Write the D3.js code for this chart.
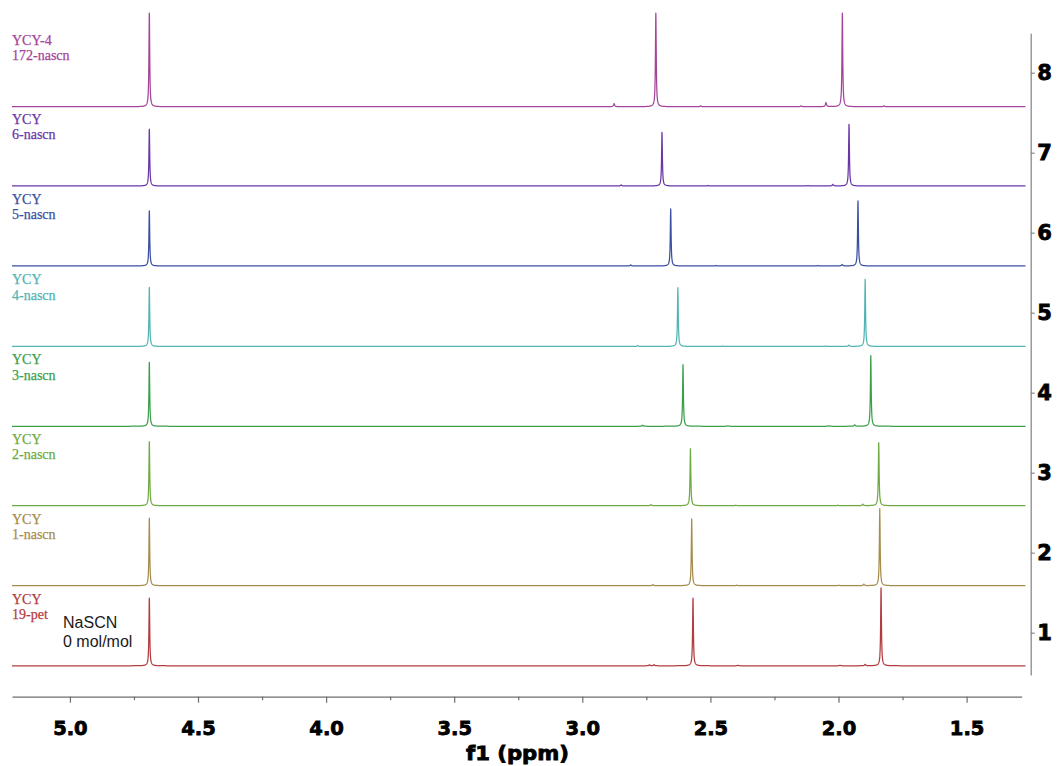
<!DOCTYPE html>
<html>
<head>
<meta charset="utf-8">
<script src="https://cdn.jsdelivr.net/npm/d3@7"></script>
<style>
  html, body { margin: 0; padding: 0; background: #fff; }
  svg { display: block; }
</style>
</head>
<body>
<svg id="chart" width="1057" height="766"></svg>
<script>
// ---------------- data ----------------
// spectra listed bottom (1) to top (8)
const sampleLine1 = ["YCY", "YCY", "YCY", "YCY", "YCY", "YCY", "YCY", "YCY-4"];
const sampleLine2 = ["19-pet", "1-nascn", "2-nascn", "3-nascn", "4-nascn", "5-nascn", "6-nascn", "172-nascn"];
const spectrumColors = ["#b23c40", "#a68d4c", "#6fab42", "#3c9f4c", "#52b4b4", "#3b4fa2", "#6b36a6", "#a5449b"];
const baselineOffsets = [0.586, 1.5875, 2.5875, 3.58, 4.578, 5.584, 6.584, 7.575];

const hdoPpm = 4.690;
const hdoHeight = [0.846, 0.843, 0.800, 0.800, 0.7375, 0.690, 0.710, 1.17];
const peakAPpm = [2.568, 2.573, 2.578, 2.607, 2.627, 2.655, 2.689, 2.713];
const peakAHeight = [0.846, 0.834, 0.7125, 0.770, 0.735, 0.7125, 0.670, 1.17];
const peakBPpm = [1.834, 1.839, 1.843, 1.874, 1.896, 1.924, 1.959, 1.985];
const peakBHeight = [0.975, 0.9625, 0.7875, 0.8825, 0.840, 0.8125, 0.770, 1.17];

// minor peaks [ppm, height]
const minorPeaks = [
  [[2.738, 0.012], [2.720, 0.014], [2.392, 0.006], [1.994, 0.006], [1.896, 0.018]],
  [[2.725, 0.013], [2.397, 0.006], [1.999, 0.006], [1.901, 0.018]],
  [[2.732, 0.013], [2.401, 0.006], [2.003, 0.006], [1.905, 0.018]],
  [[2.764, 0.013], [2.432, 0.006], [2.037, 0.006], [1.937, 0.018]],
  [[2.784, 0.012], [2.452, 0.006], [2.050, 0.006], [1.960, 0.016]],
  [[2.811, 0.013], [2.478, 0.006], [2.081, 0.006], [1.986, 0.018]],
  [[2.848, 0.013], [2.510, 0.006], [2.119, 0.006], [2.022, 0.020]],
  [[2.876, 0.038], [2.538, 0.012], [2.146, 0.010], [2.049, 0.050], [1.822, 0.012]]
];

const xTickValues = [5.0, 4.5, 4.0, 3.5, 3.0, 2.5, 2.0, 1.5];
const xMinorTickValues = [4.75, 4.25, 3.75, 3.25, 2.75, 2.25, 1.75];
const yTickValues = [1, 2, 3, 4, 5, 6, 7, 8];

// ---------------- drawing ----------------
const svg = d3.select("#chart");

const x = d3.scaleLinear().domain([5.226, 1.285]).range([12, 1021.7]);
const y = d3.scaleLinear().domain([0.471, 8.4925]).range([675, 33.3]);

const specLeft = 5.226, specRight = x.invert(1025.5);
const hwMain = 0.0018, hwMinor = 0.0026;

function lorentz(p, p0, h, w) {
  const d = p - p0;
  return h * w * w / (d * d + w * w);
}

const line = d3.line().x(d => x(d[0])).y(d => y(d[1])).curve(d3.curveLinear);

for (let i = 0; i < 8; i++) {
  const peaks = [
    [hdoPpm, hdoHeight[i], hwMain],
    [peakAPpm[i], peakAHeight[i], hwMain],
    [peakBPpm[i], peakBHeight[i], hwMain]
  ].concat(minorPeaks[i].map(m => [m[0], m[1], hwMinor]));

  const step = (specLeft - specRight) / 5000;
  let grid = d3.range(specLeft, specRight, -step);
  grid.push(specRight);
  peaks.forEach(pk => grid.push(pk[0]));
  grid.sort((a, b) => b - a);

  const pts = grid.map(p => {
    let v = 0;
    peaks.forEach(pk => { v += lorentz(p, pk[0], pk[1], pk[2]); });
    return [p, baselineOffsets[i] + v];
  });

  svg.append("path")
    .attr("d", line(pts))
    .attr("fill", "none")
    .attr("stroke", spectrumColors[i])
    .attr("stroke-width", 1.25)
    .attr("stroke-linejoin", "round");

  const prevBase = y(baselineOffsets[i] + 1.0);
  const lbl = svg.append("text")
    .attr("font-family", "'Liberation Serif', 'DejaVu Serif', serif")
    .attr("font-size", 14)
    .attr("fill", spectrumColors[i])
    .attr("stroke", spectrumColors[i])
    .attr("stroke-width", 0.25);
  lbl.append("tspan").attr("x", 12).attr("y", prevBase + 18).text(sampleLine1[i]);
  lbl.append("tspan").attr("x", 12).attr("y", prevBase + 33.5).text(sampleLine2[i]);
}

// NaSCN annotation
const ann = svg.append("text")
  .attr("font-family", "'Liberation Sans', Arial, sans-serif")
  .attr("font-size", 16)
  .attr("fill", "#1a1a1a");
ann.append("tspan").attr("x", 63).attr("y", 627.5).text("NaSCN");
ann.append("tspan").attr("x", 63).attr("y", 646.7).text("0 mol/mol");

// bottom axis
const axisY = 696.7;
const gx = svg.append("g").attr("transform", `translate(0,${axisY})`)
  .call(d3.axisBottom(x).tickValues(xTickValues).tickFormat(d3.format(".1f")).tickSize(6).tickSizeOuter(0));
gx.select(".domain").attr("stroke", "#6e6e6e").attr("stroke-width", 1.2);
gx.selectAll(".tick line").attr("stroke", "#6e6e6e").attr("stroke-width", 1.2);
gx.selectAll(".tick text")
  .attr("y", 38.3).attr("dy", 0)
  .attr("font-family", "'DejaVu Sans', sans-serif")
  .attr("font-weight", "bold")
  .attr("font-size", 19.5)
  .attr("fill", "#000")
  .attr("stroke", "#000")
  .attr("stroke-width", 0.8);
const gxm = svg.append("g").attr("transform", `translate(0,${axisY})`)
  .call(d3.axisBottom(x).tickValues(xMinorTickValues).tickFormat("").tickSize(3.5).tickSizeOuter(0));
gxm.select(".domain").remove();
gxm.selectAll(".tick line").attr("stroke", "#6e6e6e").attr("stroke-width", 1.2);

svg.append("text")
  .attr("x", 466).attr("y", 759.5)
  .attr("textLength", 103).attr("lengthAdjust", "spacingAndGlyphs")
  .attr("font-family", "'DejaVu Sans', sans-serif")
  .attr("font-weight", "bold")
  .attr("font-size", 19.5)
  .attr("fill", "#000")
  .attr("stroke", "#000")
  .attr("stroke-width", 0.8)
  .text("f1 (ppm)");

// right axis
const gy = svg.append("g").attr("transform", "translate(1030.7,0)")
  .call(d3.axisRight(y).tickValues(yTickValues).tickFormat(d3.format("d")).tickSize(4).tickPadding(2.5).tickSizeOuter(0));
gy.select(".domain").attr("stroke", "#8a8a8a").attr("stroke-width", 1.3);
gy.selectAll(".tick line").attr("stroke", "#8a8a8a").attr("stroke-width", 1.2);
gy.selectAll(".tick text")
  .attr("font-family", "'DejaVu Sans', sans-serif")
  .attr("font-weight", "bold")
  .attr("font-size", 21)
  .attr("fill", "#000")
  .attr("stroke", "#000")
  .attr("stroke-width", 0.8);
</script>
</body>
</html>
